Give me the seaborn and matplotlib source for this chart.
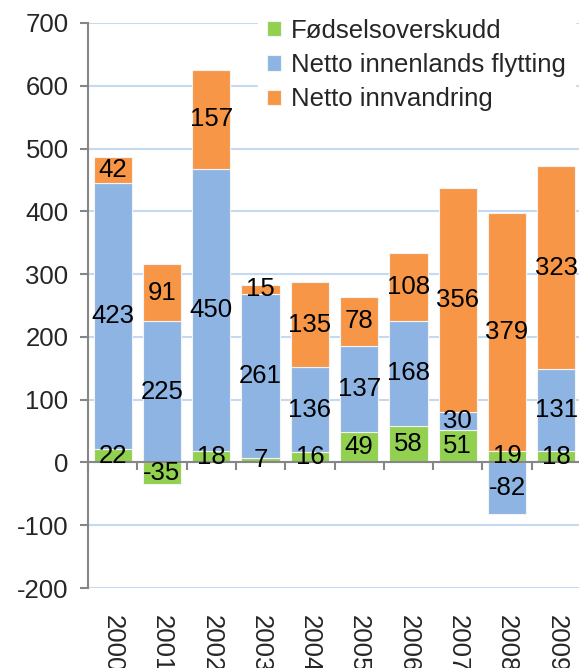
import matplotlib
matplotlib.use("Agg")
import matplotlib.pyplot as plt
import numpy as np
import pandas as pd
import seaborn as sns

years = ["2000", "2001", "2002", "2003", "2004", "2005", "2006", "2007", "2008", "2009"]
fodsel = [22, -35, 18, 7, 16, 49, 58, 51, 19, 18]
innenlands = [423, 225, 450, 261, 136, 137, 168, 30, -82, 131]
innvandring = [42, 91, 157, 15, 135, 78, 108, 356, 379, 323]

series = [
    ("Fødselsoverskudd", fodsel, "#92d050"),
    ("Netto innenlands flytting", innenlands, "#8eb4e3"),
    ("Netto innvandring", innvandring, "#f79646"),
]

sns.set_style("white")
plt.rcParams["font.family"] = ["Liberation Sans", "DejaVu Sans"]
plt.rcParams["axes.unicode_minus"] = False
fs = 18.5

fig = plt.figure(figsize=(5.79, 6.68), dpi=100)
ax = fig.add_axes([88 / 579, 1 - 588 / 668, 493 / 579, (588 - 23) / 668])

pos_base = np.zeros(len(years))
neg_base = np.zeros(len(years))
for name, vals, color in series:
    vals = np.array(vals, dtype=float)
    bottom = np.where(vals >= 0, pos_base, neg_base)
    df = pd.DataFrame({"year": years, "value": vals})
    sns.barplot(data=df, x="year", y="value", color=color, width=0.775,
                bottom=bottom, edgecolor="#f4f4f4", linewidth=0.8,
                saturation=1, label=name, ax=ax, zorder=3)
    pos_base = pos_base + np.where(vals >= 0, vals, 0)
    neg_base = neg_base + np.where(vals < 0, vals, 0)

for cont in ax.containers:
    ax.bar_label(cont, fmt="%d", label_type="center", fontsize=fs, color="black", zorder=5)

ax.set_ylim(-200, 700)
ax.set_xlim(-0.5, 9.5)
ax.set_yticks(range(-200, 701, 100))
ax.yaxis.grid(True, color="#c6d9f1", linewidth=1.5, zorder=0)
ax.set_axisbelow(True)
ax.set_xlabel("")
ax.set_ylabel("")

for s in ["top", "right"]:
    ax.spines[s].set_visible(False)
ax.spines["left"].set_color("#868686")
ax.spines["left"].set_linewidth(1.5)
ax.spines["bottom"].set_position(("data", 0))
ax.spines["bottom"].set_color("#868686")
ax.spines["bottom"].set_linewidth(1.5)
ax.spines["bottom"].set_zorder(4)

ax.tick_params(axis="y", left=True, length=6, width=1.5, color="#868686",
               labelsize=fs, pad=8)
ax.set_xticks(np.arange(-0.5, 10, 1), minor=True)
ax.tick_params(axis="x", which="minor", bottom=True, length=6, width=1.5, color="#868686")
ax.tick_params(axis="x", which="major", bottom=False, length=0, labelsize=fs, pad=110)
ax.set_xticks(range(len(years)))
ax.set_xticklabels(years, rotation=270, va="top", ha="center")

leg = ax.legend(loc="upper left", bbox_to_anchor=(245 / 579, 1 + 3 / 668),
                bbox_transform=fig.transFigure, fontsize=fs, frameon=True,
                facecolor="white", edgecolor="white", framealpha=1, fancybox=False,
                handlelength=0.55, handleheight=0.55, handletextpad=0.4,
                labelspacing=0.4, borderpad=0.35)
leg.set_zorder(10)

fig.savefig("out.png", dpi=100)
